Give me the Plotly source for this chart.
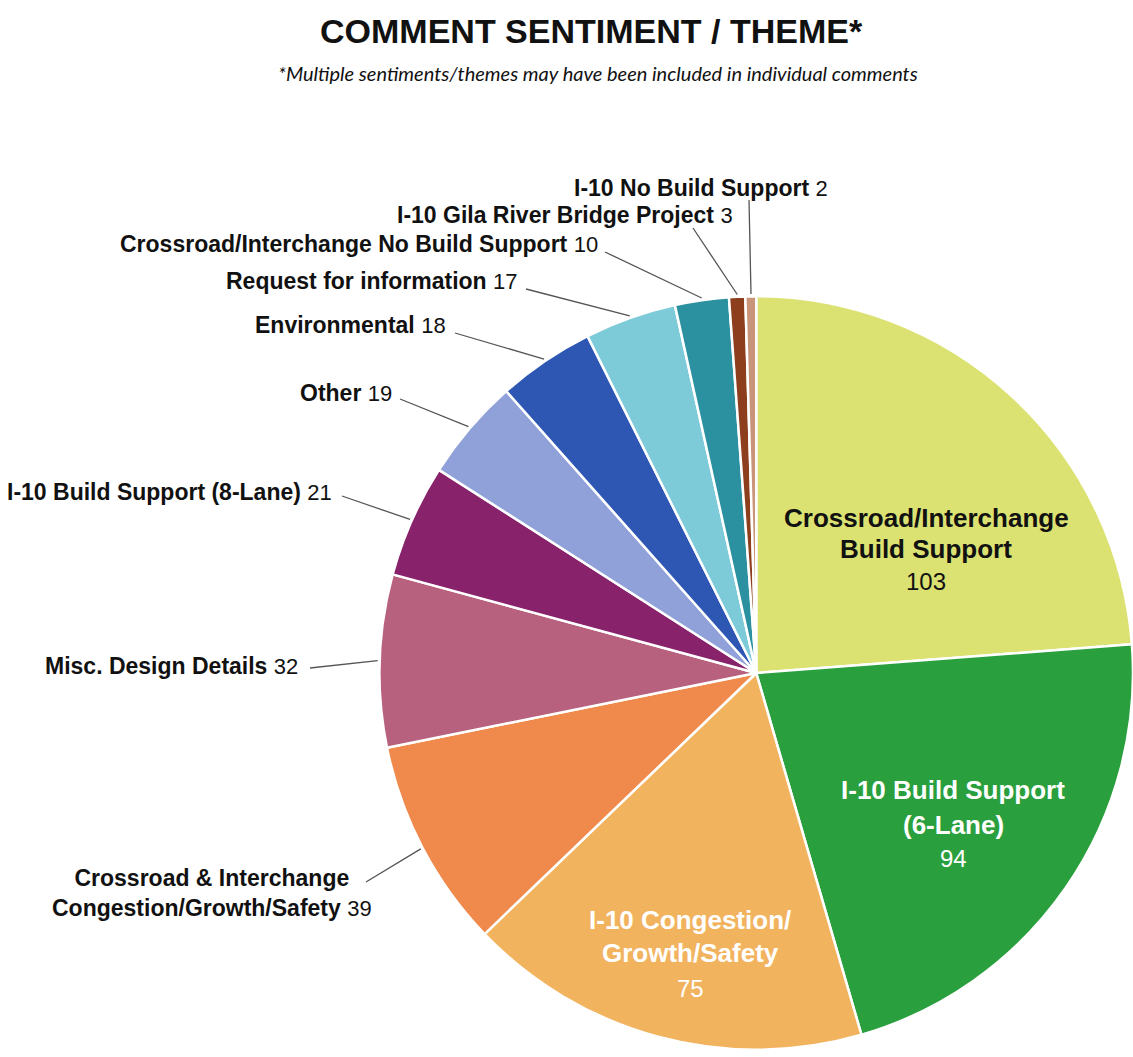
import math
import plotly.graph_objects as go

# Comment counts by sentiment / theme, clockwise from 12 o'clock
themes = [
    "Crossroad/Interchange Build Support",
    "I-10 Build Support (6-Lane)",
    "I-10 Congestion/Growth/Safety",
    "Crossroad & Interchange Congestion/Growth/Safety",
    "Misc. Design Details",
    "I-10 Build Support (8-Lane)",
    "Other",
    "Environmental",
    "Request for information",
    "Crossroad/Interchange No Build Support",
    "I-10 Gila River Bridge Project",
    "I-10 No Build Support",
]
counts = [103, 94, 75, 39, 32, 21, 19, 18, 17, 10, 3, 2]
colors = [
    "#dbe272", "#2a9f3d", "#f2b35f", "#ef8a4c", "#b8617f", "#87226b",
    "#8fa1d8", "#2d57b2", "#7dcad9", "#2b909f", "#8c3e1d", "#c8947a",
]

W, H = 1133, 1057
CX, CY, R = 756.5, 673.0, 377.0


def px(x):
    return x / W


def py(y):
    return 1 - y / H


fig = go.Figure(
    go.Pie(
        labels=themes,
        values=counts,
        sort=False,
        direction="clockwise",
        rotation=0,
        marker=dict(colors=colors, line=dict(color="white", width=2.5)),
        textinfo="none",
        hoverinfo="label+value",
        domain=dict(x=[px(CX - R), 1.0], y=[py(CY + R), py(CY - R)]),
        showlegend=False,
    )
)

BOLD = "Liberation Sans, Arial, sans-serif"
NUM = "Liberation Sans, Arial, sans-serif"

annotations = []
shapes = []


def text_at(x, y, text, font, xanchor="center", align="center"):
    annotations.append(dict(
        x=px(x), y=py(y), xref="paper", yref="paper", showarrow=False,
        xanchor=xanchor, yanchor="middle", align=align,
        text=text, font=font,
    ))


# Title and footnote
text_at(591, 31, "<b>COMMENT SENTIMENT / THEME*</b>",
        dict(family=BOLD, size=34, color="#111111"))
text_at(598, 73,
        "<i>*Multiple sentiments/themes may have been included in individual comments</i>",
        dict(family="Lato, Open Sans, sans-serif", size=20, color="#111111"))


def label_html(name, value):
    return (f"<b>{name}</b> <span style='font-size:22px;font-weight:normal'>"
            f"{value}</span>")


# Outside labels: index -> (right edge x, centre y, leader start x, leader start y)
outside = {
    11: (830, 188, 749, 200),
    10: (735, 215, 693, 228),
    9: (600, 244, 605, 252),
    8: (520, 281, 526, 289),
    7: (448, 325, 455, 333),
    6: (394, 393, 400, 399),
    5: (334, 492, 342, 496),
    4: (300, 666, 310, 668),
}

total = sum(counts)
cum = 0
mids = []
for c in counts:
    mids.append((cum + c / 2) / total * 2 * math.pi)
    cum += c


def leader(i, x0, y0):
    a = mids[i]
    ex = CX + (R + 2) * math.sin(a)
    ey = CY - (R + 2) * math.cos(a)
    shapes.append(dict(
        type="line", xref="paper", yref="paper",
        x0=px(x0), y0=py(y0), x1=px(ex), y1=py(ey),
        line=dict(color="#555555", width=1.3),
    ))


for i, (xr, yc, lx, ly) in outside.items():
    text_at(xr, yc, label_html(themes[i], counts[i]),
            dict(family=BOLD, size=23, color="#111111"), xanchor="right")
    leader(i, lx, ly)

# Two-line label for the Crossroad & Interchange congestion slice
text_at(212, 893,
        "<b>Crossroad &amp; Interchange</b><br>"
        + label_html("Congestion/Growth/Safety", counts[3]),
        dict(family=BOLD, size=23, color="#111111"))
leader(3, 366, 882)

# Labels inside the three largest slices
inside = [
    (0, ["Crossroad/Interchange", "Build Support"], 926, [518, 549, 581], "#111111"),
    (1, ["I-10 Build Support", "(6-Lane)"], 953, [790, 825, 858], "white"),
    (2, ["I-10 Congestion/", "Growth/Safety"], 690, [920, 953, 988], "white"),
]
for i, lines, xc, ys, col in inside:
    for line, y in zip(lines, ys[:2]):
        text_at(xc, y, f"<b>{line}</b>", dict(family=BOLD, size=26, color=col))
    text_at(xc, ys[2], str(counts[i]), dict(family=NUM, size=24, color=col))

fig.update_layout(
    width=W, height=H,
    margin=dict(l=0, r=0, t=0, b=0),
    paper_bgcolor="white", plot_bgcolor="white",
    annotations=annotations, shapes=shapes,
)

fig.write_html("out.html")
